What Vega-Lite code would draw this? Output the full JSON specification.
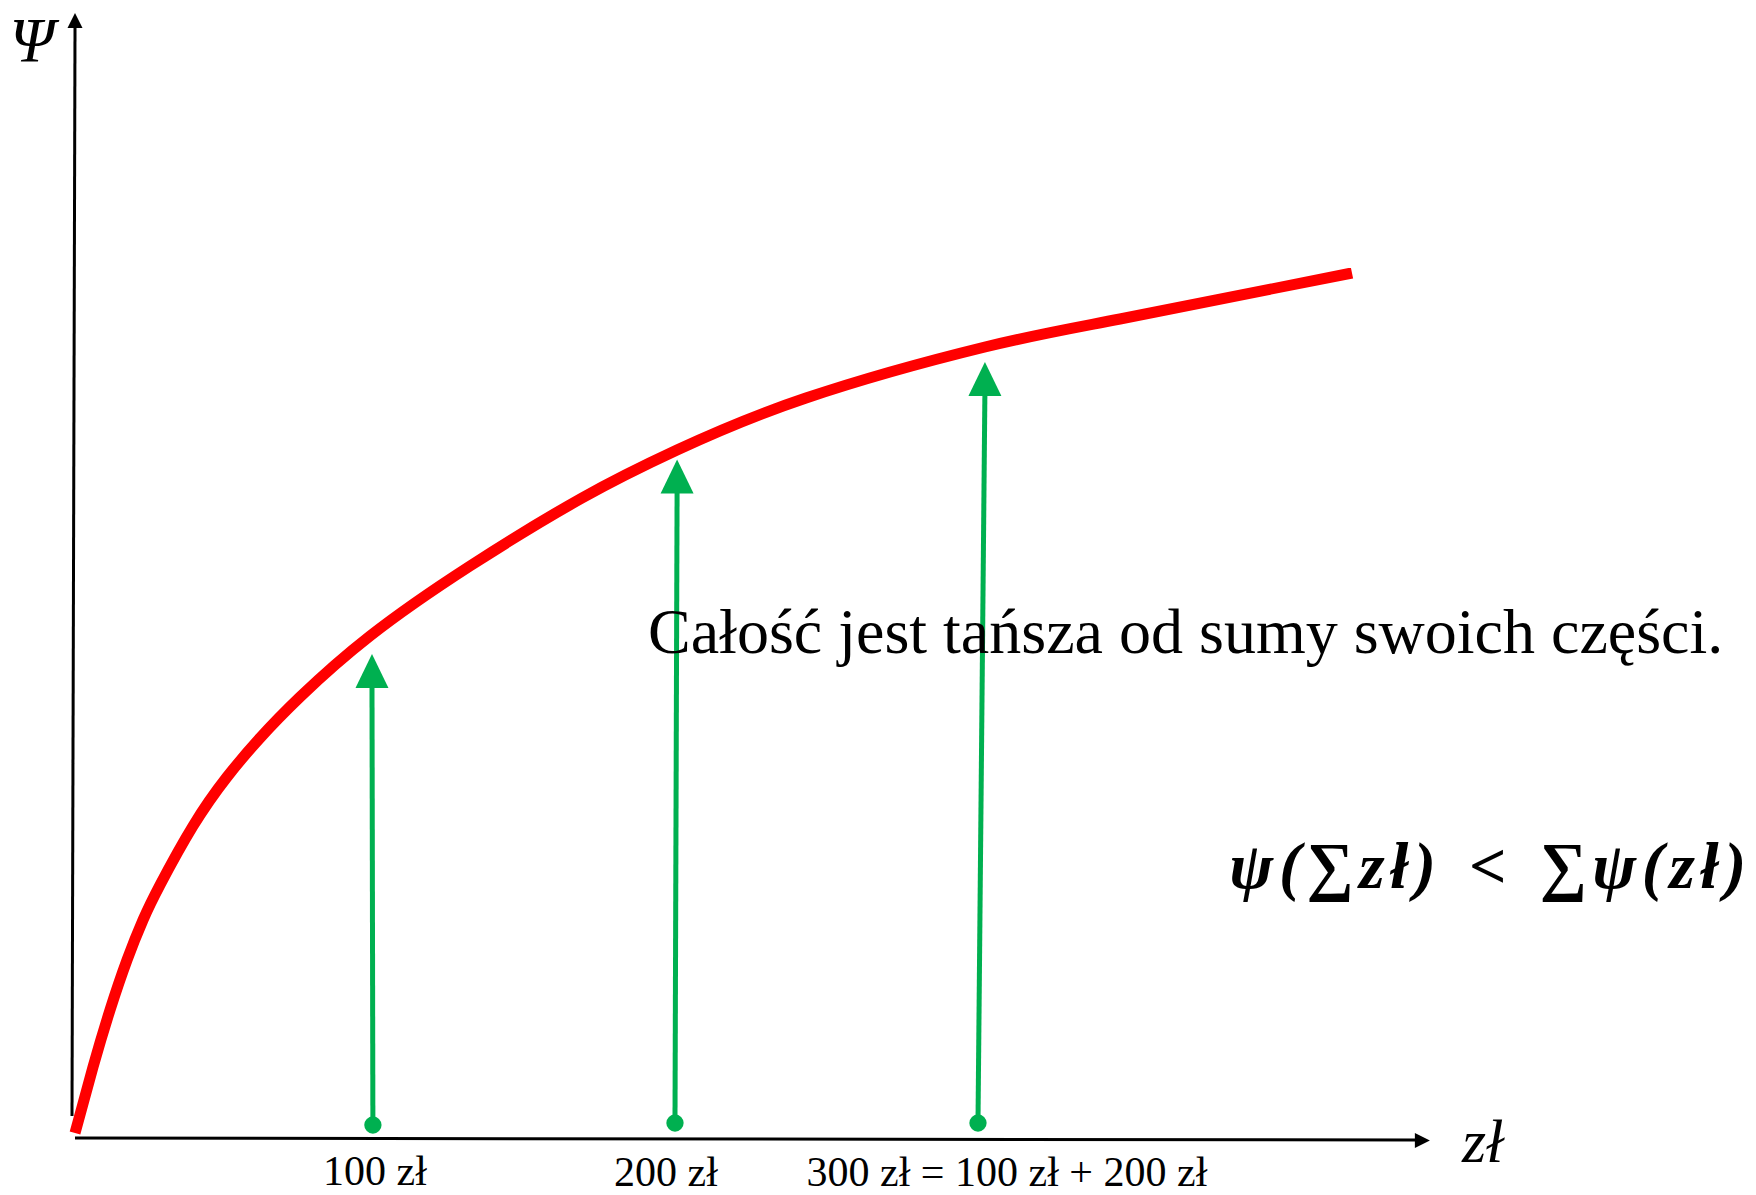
{
  "$schema": "https://vega.github.io/schema/vega-lite/v6.json",
  "width": 1756,
  "height": 1195,
  "autosize": {"type": "none"},
  "padding": 0,
  "background": "white",
  "config": {"view": {"stroke": null}},
  "datasets": {
    "axisLines": [
      {"x": -1.0, "y": 2.2, "x2": 0.0, "y2": 111.2},
      {"x": 0.0, "y": 0.0, "x2": 444.8, "y2": -0.2}
    ],
    "axisHeadUp": [{"x": 0.0, "y": 111.75}],
    "axisHeadRight": [{"x": 446.9, "y": -0.25}],
    "curve": [
      {"x": 0.0, "y": 0.5},
      {"x": 5.97, "y": 7.1},
      {"x": 11.61, "y": 12.8},
      {"x": 17.25, "y": 17.8},
      {"x": 22.55, "y": 21.8},
      {"x": 28.19, "y": 25.3},
      {"x": 39.14, "y": 31.2},
      {"x": 50.41, "y": 36.1},
      {"x": 61.36, "y": 40.0},
      {"x": 74.63, "y": 44.1},
      {"x": 97.84, "y": 50.2},
      {"x": 131.01, "y": 57.2},
      {"x": 168.16, "y": 64.0},
      {"x": 199.67, "y": 68.8},
      {"x": 242.45, "y": 74.0},
      {"x": 301.82, "y": 79.1},
      {"x": 346.6, "y": 81.9},
      {"x": 423.55, "y": 86.5}
    ],
    "arrows": [
      {"x": 98.8, "y": 1.3, "x2": 98.5, "y2": 45.5},
      {"x": 199.0, "y": 1.5, "x2": 199.7, "y2": 65.0},
      {"x": 299.5, "y": 1.5, "x2": 301.8, "y2": 74.8}
    ],
    "arrowHeads": [
      {"x": 98.5, "y": 46.7},
      {"x": 199.7, "y": 66.15},
      {"x": 301.8, "y": 75.9}
    ],
    "tickLabels": [
      {"x": 99.5, "y": -4.7, "label": "100 zł"},
      {"x": 196.0, "y": -4.8, "label": "200 zł"},
      {"x": 309.1, "y": -4.8, "label": "300 zł = 100 zł + 200 zł"}
    ],
    "note": [{"x": 190.05, "y": 48.5, "label": "Całość jest tańsza od sumy swoich części."}],
    "yTitle": [{"x": -14.3, "y": 107.6, "label": "Ψ"}],
    "xTitle": [{"x": 466.9, "y": -2.4, "label": "zł"}],
    "formula": [{"x": 468.6, "y": 25.0, "label": "ψ\u200a(\u200a∑\u200az\u200ał\u200a)\u2002<\u2002∑\u200aψ\u200a(\u200az\u200ał\u200a)"}]
  },
  "encoding": {
    "x": {"field": "x", "type": "quantitative", "scale": {"domain": [-24.88, 557.55], "nice": false, "zero": false}, "axis": null},
    "y": {"field": "y", "type": "quantitative", "scale": {"domain": [-5.7, 113.8], "nice": false, "zero": false}, "axis": null}
  },
  "layer": [
    {
      "data": {"name": "axisLines"},
      "mark": {"type": "rule", "color": "black", "strokeWidth": 3},
      "encoding": {"x2": {"field": "x2"}, "y2": {"field": "y2"}}
    },
    {
      "data": {"name": "axisHeadUp"},
      "mark": {"type": "point", "shape": "M0,-1L-1,1L1,1Z", "filled": true, "color": "black", "opacity": 1, "size": 225, "strokeWidth": 0}
    },
    {
      "data": {"name": "axisHeadRight"},
      "mark": {"type": "point", "shape": "M1,0L-1,-1L-1,1Z", "filled": true, "color": "black", "opacity": 1, "size": 225, "strokeWidth": 0}
    },
    {
      "data": {"name": "curve"},
      "mark": {"type": "line", "color": "#FF0000", "strokeWidth": 11, "interpolate": "natural", "strokeCap": "butt"}
    },
    {
      "data": {"name": "arrows"},
      "mark": {"type": "rule", "color": "#00B050", "strokeWidth": 5},
      "encoding": {"x2": {"field": "x2"}, "y2": {"field": "y2"}}
    },
    {
      "data": {"name": "arrows"},
      "mark": {"type": "point", "shape": "circle", "filled": true, "color": "#00B050", "opacity": 1, "size": 300, "strokeWidth": 0}
    },
    {
      "data": {"name": "arrowHeads"},
      "mark": {"type": "point", "shape": "M0,-1L-0.97,1L0.97,1Z", "filled": true, "color": "#00B050", "opacity": 1, "size": 1156, "strokeWidth": 0}
    },
    {
      "data": {"name": "tickLabels"},
      "mark": {"type": "text", "font": "Liberation Serif", "fontSize": 42, "color": "black", "align": "center", "baseline": "alphabetic"},
      "encoding": {"text": {"field": "label"}}
    },
    {
      "data": {"name": "note"},
      "mark": {"type": "text", "font": "Liberation Serif", "fontSize": 64, "color": "black", "align": "left", "baseline": "alphabetic"},
      "encoding": {"text": {"field": "label"}}
    },
    {
      "data": {"name": "yTitle"},
      "mark": {"type": "text", "font": "Liberation Serif", "fontSize": 64, "fontStyle": "italic", "color": "black", "align": "center", "baseline": "alphabetic"},
      "encoding": {"text": {"field": "label"}}
    },
    {
      "data": {"name": "xTitle"},
      "mark": {"type": "text", "font": "Liberation Serif", "fontSize": 62, "fontStyle": "italic", "color": "black", "align": "center", "baseline": "alphabetic"},
      "encoding": {"text": {"field": "label"}}
    },
    {
      "data": {"name": "formula"},
      "mark": {"type": "text", "font": "Liberation Serif", "fontSize": 66, "fontStyle": "italic", "fontWeight": "bold", "color": "black", "align": "center", "baseline": "alphabetic"},
      "encoding": {"text": {"field": "label"}}
    }
  ]
}
